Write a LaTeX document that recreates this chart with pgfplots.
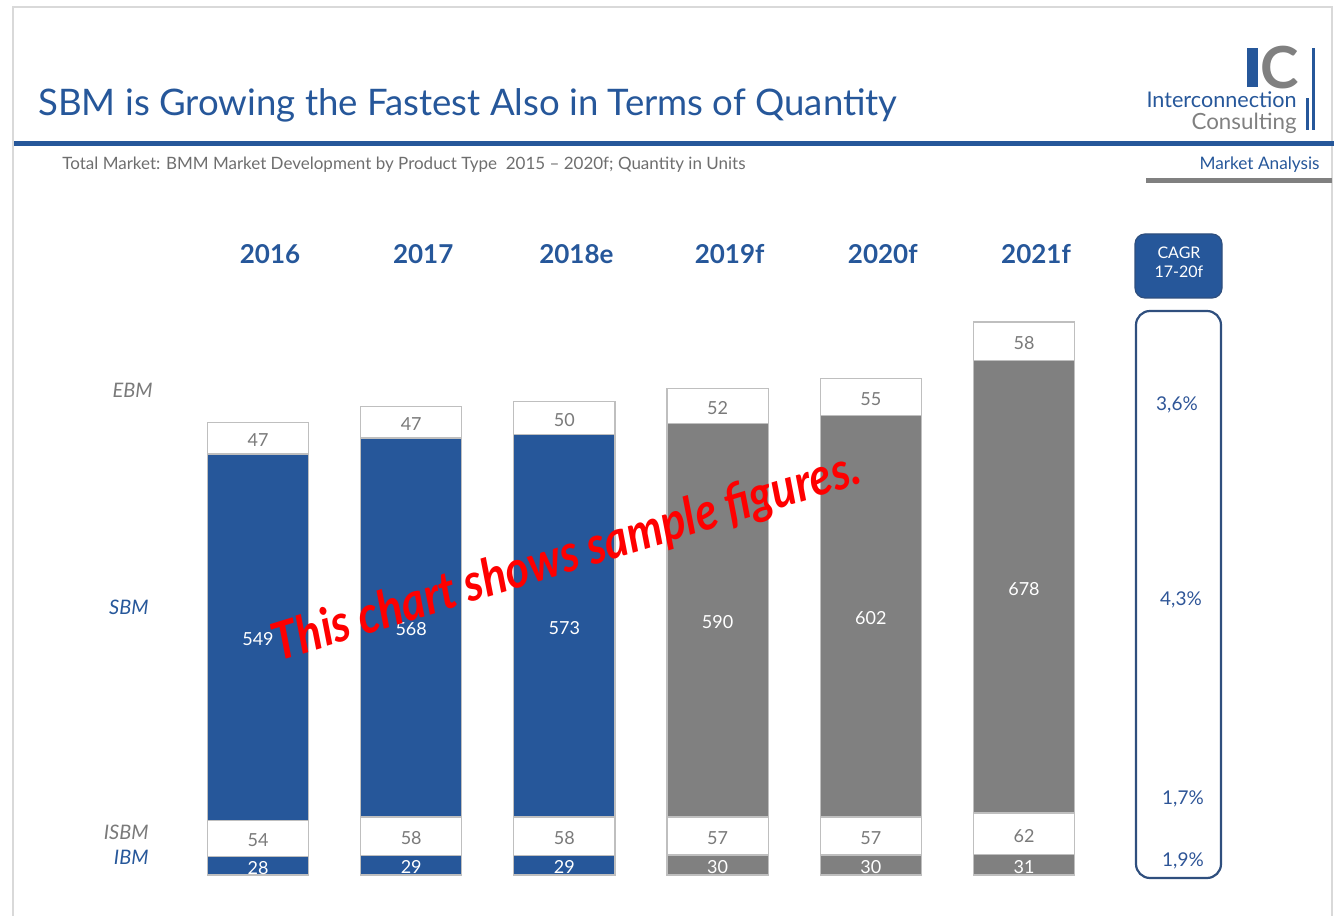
\documentclass[border=0pt]{standalone}
\usepackage{fontspec}
\setmainfont{Lato}
\usepackage{pgfplots}
\usepackage{pgfplotstable}
\pgfplotsset{compat=1.18}
\definecolor{icblue}{HTML}{26579A}
\definecolor{icgray}{HTML}{808080}
\definecolor{edgegray}{HTML}{BFBFBF}
\definecolor{numgray}{HTML}{7A7A7A}
\definecolor{subgray}{HTML}{6E6E6E}
\definecolor{framegray}{HTML}{D9D9D9}
\definecolor{boxblue}{HTML}{2F4F7E}
\definecolor{pctblue}{HTML}{2E5597}

\pgfplotstableread{
x IBMb IBMg ISBM SBMb SBMg EBM
0 28  0  54 549   0 47
1 29  0  58 568   0 47
2 29  0  58 573   0 50
3  0 30  57   0 590 52
4  0 30  57   0 602 55
5  0 31  62   0 678 58
}\datatable

\pgfplotsset{
  seg/.style n args={2}{%
    fill=#1, draw=edgegray, line width=0.6pt,
    visualization depends on={rawy \as \segval},
    nodes near coords={\pgfmathtruncatemacro\bv{\segval}\ifnum\bv>0 \bv\fi},
    every node near coord/.style={anchor=center, yshift=-1pt,
      text=#2, font=\fontsize{9}{10}\selectfont},
  },
}

\begin{document}
\begin{tikzpicture}[x=0.5pt,y=0.5pt]
\useasboundingbox (0,0) rectangle (1334,916);
% frame
\draw[framegray, line width=1pt] (13,0) -- (13,909) -- (1332,909) -- (1332,0);
% header rule
\fill[icblue] (14,770) rectangle (1334,775);
\fill[icgray] (1146,733) rectangle (1332,738);
% title
\node[anchor=base west, inner sep=0, text=icblue] at (38,800)
  {\resizebox{429.5pt}{!}{\fontsize{19}{22}\selectfont SBM is Growing the Fastest Also in Terms of Quantity}};
\node[anchor=base west, inner sep=0, text=subgray] at (62,746)
  {\resizebox{341.5pt}{!}{\fontsize{9}{11}\selectfont Total Market: BMM Market Development by Product Type\ \ 2015 -- 2020f; Quantity in Units}};
\node[anchor=base east, inner sep=0, text=icblue] at (1320,746)
  {\resizebox{60pt}{!}{\fontsize{9}{11}\selectfont Market Analysis}};
% logo
\fill[icblue] (1247,829) rectangle (1258,868);
\node[text=icgray, inner sep=0, font=\fontsize{29}{29}\selectfont\bfseries] at (1280,848) {C};
\fill[icblue] (1311.5,786) rectangle (1314.5,868);
\fill[icblue] (1305.5,786) rectangle (1308.5,818);
\node[anchor=base east, inner sep=0, text=icblue] at (1297,808)
  {\resizebox{75pt}{!}{\fontsize{10}{12}\selectfont Interconnection}};
\node[anchor=base east, inner sep=0, text=icgray] at (1297,786)
  {\resizebox{52.5pt}{!}{\fontsize{10}{12}\selectfont Consulting}};

\begin{axis}[
  at={(90.7pt,20.5pt)}, anchor=south west,
  x=76.6pt, y=0.33353pt,
  xmin=-0.5, xmax=5.5, ymin=0, ymax=850,
  ybar stacked, bar width=0.66,
  clip=false,
  axis line style={draw=none}, tick style={draw=none},
  ytick=\empty,
  xtick={0,1,2,3,4,5},
  xticklabels={2016,2017,2018e,2019f,2020f,2021f},
  xticklabel pos=upper,
  xticklabel style={anchor=center, yshift=27pt, xshift=6pt, text=icblue,
    font=\fontsize{13}{15}\selectfont\bfseries},
]
\addplot[seg={icblue}{white}] table[x=x,y=IBMb]{\datatable};
\addplot[seg={icgray}{white}] table[x=x,y=IBMg]{\datatable};
\addplot[seg={white}{numgray}] table[x=x,y=ISBM]{\datatable};
\addplot[seg={icblue}{white}] table[x=x,y=SBMb]{\datatable};
\addplot[seg={icgray}{white}] table[x=x,y=SBMg]{\datatable};
\addplot[seg={white}{numgray}] table[x=x,y=EBM]{\datatable};
\end{axis}

% row labels
\node[anchor=east, inner sep=0, text=numgray, font=\itshape\fontsize{10}{12}\selectfont] at (153,526) {EBM};
\node[anchor=east, inner sep=0, text=icblue, font=\itshape\fontsize{10}{12}\selectfont] at (149,309) {SBM};
\node[anchor=east, inner sep=0, text=numgray, font=\itshape\fontsize{10}{12}\selectfont] at (149,84) {ISBM};
\node[anchor=east, inner sep=0, text=icblue, font=\itshape\fontsize{10}{12}\selectfont] at (149,59) {IBM};

% CAGR
\draw[rounded corners=5pt, fill=icblue, draw=boxblue, line width=0.6pt] (1135,618) rectangle (1222,682);
\node[text=white, align=center, font=\fontsize{8}{9.5}\selectfont] at (1179,654) {CAGR\\17-20f};
\draw[boxblue, line width=1.1pt, rounded corners=7pt] (1136,38) rectangle (1221,605);
\node[text=pctblue, font=\fontsize{9.5}{11}\selectfont] at (1177,511) {3,6\%};
\node[text=pctblue, font=\fontsize{9.5}{11}\selectfont] at (1181,316) {4,3\%};
\node[text=pctblue, font=\fontsize{9.5}{11}\selectfont] at (1183,117) {1,7\%};
\node[text=pctblue, font=\fontsize{9.5}{11}\selectfont] at (1183,55) {1,9\%};

% watermark
\node[rotate=17, text=red, inner sep=0] at (567,358)
  {\scalebox{0.87}[1]{\fontsize{26}{30}\selectfont\bfseries\itshape This chart shows sample figures.}};
\end{tikzpicture}
\end{document}
